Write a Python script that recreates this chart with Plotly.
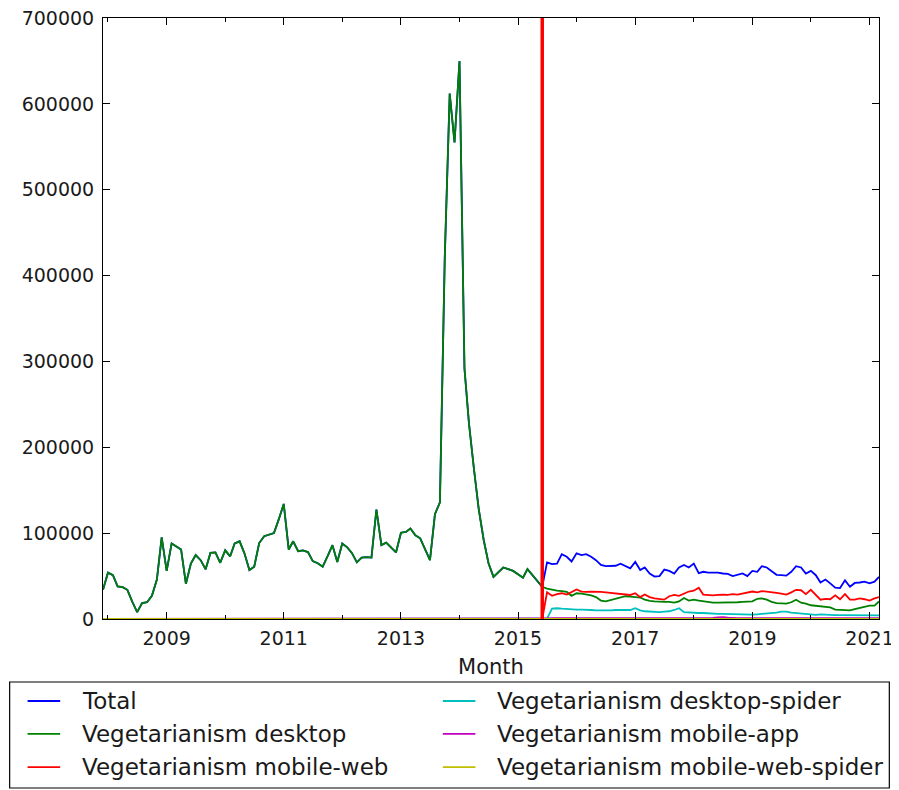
import pandas as pd
import plotly.graph_objects as go

# 月份：2007-12 到 2021-03
months = pd.date_range('2007-12-01', '2021-03-01', freq='MS')

# 旧统计口径（2007-12 ~ 2015-06），Total 与 desktop 相同
legacy_views = [
    34000, 54000, 51000, 38000, 37000, 34000, 20000, 8000, 18500, 19500,
    27000, 46000, 95000, 56000, 88000, 85000, 81000, 41000, 64500, 74500,
    68500, 58000, 77000, 77500, 65500, 80000, 73000, 88000, 90500, 76500,
    57000, 61000, 88500, 96500, 98500, 100000, 116000, 134000, 81000, 90500,
    79000, 80000, 78000, 67500, 65000, 61000, 73000, 86000, 66500, 88000,
    83500, 77000, 66000, 71500, 72000, 71500, 127500, 86000, 89000, 83500,
    77500, 100500, 101500, 105500, 97500, 94000, 82000, 68500, 122000, 136000,
    420000, 612000, 555000, 650000, 292000, 228000, 175000, 128000, 92000, 65000,
    49000, 55000, 60000, 58000, 56000, 52000, 48000, 58000, 51000, 44000,
    37500,
]

# 新统计口径（2015-07 ~ 2021-03）
total_new = [
    66000, 64000, 64500, 75500, 72500, 67000, 76500, 74500, 75500, 72500,
    68500, 63000, 61500, 61500, 62000, 64500, 61500, 59000, 66500, 57000,
    60000, 53000, 49500, 50000, 57500, 56000, 53000, 60000, 63000, 60000,
    64500, 53500, 55000, 54000, 54000, 54000, 53000, 52500, 50000, 51500,
    53000, 50000, 56000, 55000, 61500, 60000, 56000, 51500, 51000, 50500,
    55000, 61500, 60000, 53000, 56000, 51000, 42500, 46000, 41500, 36500,
    36000, 45000, 37500, 42000, 42500, 43500, 41500, 43500, 49000,
]
desktop_new = [
    35500, 34000, 33000, 32500, 31500, 27000, 30000, 29500, 28500, 27500,
    25500, 21500, 20500, 22000, 24000, 25000, 26500, 26000, 25500, 25000,
    22500, 21000, 20500, 20000, 20000, 20000, 19000, 20500, 24500, 21500,
    22500, 21500, 20500, 19500, 19000, 19000, 19000, 19000, 19500, 19500,
    20000, 20000, 20500, 23500, 24000, 22500, 20000, 18500, 18000, 18000,
    19500, 22500, 19000, 18000, 16000, 15500, 14500, 14000, 13500, 11000,
    10500, 10000, 10000, 11500, 13000, 14500, 15500, 15500, 20500,
]
mobile_web_new = [
    31000, 27000, 29000, 30000, 28500, 31000, 34500, 32000, 31500, 32000,
    32000, 31500, 31000, 30500, 30000, 29000, 28500, 28000, 30000, 25500,
    28500, 25500, 24000, 23000, 22500, 26500, 28000, 27000, 30000, 32000,
    33000, 36500, 28500, 28000, 27500, 28000, 28500, 28000, 29000, 28500,
    29500, 30500, 32000, 31000, 32500, 32000, 31500, 30500, 29500, 28500,
    31000, 34000, 33500, 29000, 34000, 28500, 22500, 23500, 23000, 27500,
    23000, 29000, 22500, 22500, 24000, 23000, 21500, 24000, 25500,
]
desktop_spider_new = [
    500, 12000, 12500, 12000, 11500, 11500, 11000, 11000, 11000, 10500,
    10000, 10000, 9500, 10000, 10500, 10500, 11000, 10500, 12500, 10000,
    9000, 8500, 8000, 8000, 8500, 9000, 10500, 12500, 8000, 7500,
    7500, 7000, 7000, 6500, 6500, 6000, 6000, 5800, 5800, 5500,
    5500, 5000, 5000, 5500, 6000, 6000, 6500, 7500, 8500, 8500,
    7500, 7000, 6000, 5500, 5000, 4800, 5500, 5000, 4500, 4500,
    4500, 4500, 4300, 4300, 4500, 4500, 4300, 4300, 4300,
]
mobile_app_new = [
    800, 900, 900, 900, 900, 900, 900, 900, 900, 900,
    900, 900, 900, 900, 900, 900, 900, 900, 900, 900,
    900, 900, 900, 900, 900, 900, 900, 900, 900, 900,
    900, 900, 900, 900, 1200, 2000, 2200, 1500, 900, 900,
    900, 900, 900, 900, 900, 900, 900, 900, 900, 900,
    900, 900, 900, 900, 900, 900, 900, 900, 900, 900,
    900, 900, 900, 900, 900, 900, 900, 900, 900,
]
mobile_web_spider_new = [150] * len(total_new)

n_old = len(legacy_views)
zeros_old = [0] * n_old

series = [
    ('Total', legacy_views + total_new, '#0000ff'),
    ('Vegetarianism desktop', legacy_views + desktop_new, '#008000'),
    ('Vegetarianism mobile-web', zeros_old + mobile_web_new, '#ff0000'),
    ('Vegetarianism desktop-spider', zeros_old + desktop_spider_new, '#00bfbf'),
    ('Vegetarianism mobile-app', zeros_old + mobile_app_new, '#bf00bf'),
    ('Vegetarianism mobile-web-spider', zeros_old + mobile_web_spider_new, '#bfbf00'),
]

switch_date = '2015-06-01'

fig = go.Figure()
for name, values, color in series:
    fig.add_trace(go.Scatter(x=months, y=values, mode='lines', name=name,
                             line=dict(color=color, width=1.8), showlegend=False))

# 数据口径切换的竖线
fig.add_shape(type='line', x0=switch_date, x1=switch_date, y0=0, y1=1,
              xref='x', yref='paper', line=dict(color='red', width=3.5))

# 图例：图下方带框，两列（按列排）
font = 'DejaVu Sans'
fig.add_shape(type='rect', xref='paper', yref='paper',
              x0=-0.1203, x1=1.0133, y0=-0.2812, y1=-0.1048,
              line=dict(color='black', width=1.2), fillcolor='white', layer='below')
col_x = [-0.0972, 0.4379]     # 图例线段起点
row_y = [-0.1364, -0.1913, -0.2463]
for i, (name, values, color) in enumerate(series):
    cx, ry = col_x[i // 3], row_y[i % 3]
    fig.add_shape(type='line', xref='paper', yref='paper',
                  x0=cx, x1=cx + 0.042, y0=ry, y1=ry,
                  line=dict(color=color, width=1.8))
    fig.add_annotation(text=name, xref='paper', yref='paper', x=cx + 0.067, y=ry,
                       xanchor='left', yanchor='middle', showarrow=False,
                       font=dict(family=font, size=23, color='#1a1a1a'))

# 页面 body 有 8px 边距，整体尺寸相应缩小
fig.update_layout(
    width=891, height=782,
    margin=dict(l=95, r=20, t=10, b=171, autoexpand=False),
    plot_bgcolor='white', paper_bgcolor='white',
    font=dict(family=font, size=19, color='#1a1a1a'),
    showlegend=False,
)
fig.update_xaxes(
    range=['2007-12-01', '2021-03-01'], showgrid=False,
    showline=True, linecolor='black', linewidth=1, mirror='ticks',
    ticks='inside', ticklen=7, tickcolor='black',
    tick0='2009-01-01', dtick='M24', tickformat='%Y',
    minor=dict(ticks='inside', ticklen=4, dtick='M12', tick0='2008-01-01', tickcolor='black'),
    title=dict(text='Month', standoff=11, font=dict(size=21)),
    ticklabelstandoff=2, ticklabeloverflow='allow',
)
fig.update_yaxes(
    range=[0, 700000], showgrid=False, zeroline=False,
    showline=True, linecolor='black', linewidth=1, mirror='ticks',
    ticks='inside', ticklen=7, tickcolor='black',
    dtick=100000, tickformat='d', ticklabelstandoff=4, ticklabeloverflow='allow',
)

fig.write_html('out.html')
